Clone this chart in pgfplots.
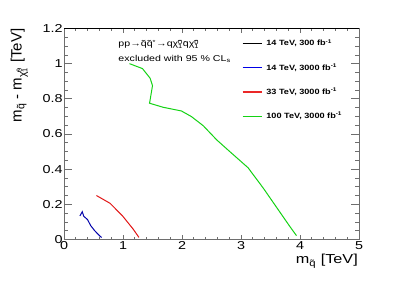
\documentclass[border=0pt]{standalone}
\usepackage{pgfplots}
\pgfplotsset{compat=1.18}
\usepackage{fontspec}
\setmainfont[FakeStretch=1.25]{Liberation Sans}
\newfontfamily\ylabfont{Liberation Sans}
\newfontfamily\legfont[FakeStretch=1.2]{Liberation Sans}
\newcommand\subsup[2]{\rlap{\textsubscript{#1}}\textsuperscript{#2}}
\definecolor{rootgreen}{RGB}{20,210,20}
\definecolor{rootblue}{RGB}{0,0,170}
\definecolor{legblue}{RGB}{0,0,230}
\definecolor{rootred}{RGB}{225,20,20}
\definecolor{legred}{RGB}{235,40,40}
\definecolor{framegray}{RGB}{110,110,110}
\begin{document}
\begin{tikzpicture}
\useasboundingbox (0pt,0pt) rectangle (399pt,286pt);
\pgfplotsset{
  common/.style={
    scale only axis, width=295pt, height=211pt,
    at={(64pt,46.5pt)}, anchor=south west,
    xmin=0, xmax=5, ymin=0, ymax=1.2,
    tick align=inside,
    axis line style={framegray, line width=0.8pt},
    every tick/.style={framegray, line width=0.7pt},
    /pgf/number format/assume math mode=true,
    tick label style={font=\fontsize{11.5}{13}\selectfont},
  }
}
\begin{axis}[common, name=main,
  xtick={0,1,2,3,4,5}, minor x tick num=4,
  ytick=\empty,
  major tick length=4.5pt, minor tick length=2.3pt,
  xticklabel style={inner sep=2pt},
  legend style={at={(rel axis cs:0.603,0.952)}, anchor=north west,
    draw=none, fill=none, inner sep=0pt,
    font=\legfont\bfseries\fontsize{7.6}{9}\selectfont,
    row sep=15.3pt, nodes={inner sep=1pt, text height=6pt, text depth=1pt},
    /tikz/every odd column/.append style={column sep=3pt}},
  legend cell align=left,
  legend image code/.code={\draw[#1] (0pt,0pt) -- (19pt,0pt);},
]
\addlegendimage{black, line width=1.3pt}
\addlegendentry{14 TeV, 300 fb\textsuperscript{-1}}
\addlegendimage{legblue, line width=1.3pt}
\addlegendentry{14 TeV, 3000 fb\textsuperscript{-1}}
\addlegendimage{legred, line width=1.3pt}
\addlegendentry{33 TeV, 3000 fb\textsuperscript{-1}}
\addlegendimage{rootgreen, line width=1.3pt}
\addlegendentry{100 TeV, 3000 fb\textsuperscript{-1}}
\addplot[rootblue, line width=1pt, forget plot] coordinates {
 (0.27,0.134) (0.31,0.158) (0.335,0.132) (0.40,0.113) (0.45,0.080)
 (0.52,0.050) (0.62,0.016) (0.64,0.012)};
\addplot[rootred, line width=1pt, forget plot] coordinates {
 (0.55,0.250) (0.78,0.206) (0.99,0.135) (1.17,0.060) (1.27,0.012)};
\addplot[rootgreen, line width=1pt, forget plot] coordinates {
 (1.11,1.000) (1.33,0.972) (1.46,0.917) (1.50,0.875) (1.45,0.775)
 (1.68,0.752) (1.99,0.731) (2.16,0.699) (2.36,0.647) (2.59,0.566)
 (2.81,0.500) (3.12,0.408) (3.38,0.291) (3.83,0.073) (3.94,0.022)};
\node[anchor=base west, inner sep=0pt, font=\fontsize{8.5}{10}\selectfont]
  at (axis cs:0.92,1.095) {pp→\~{q}\~{q}\textsuperscript{*}→q\~{χ}\subsup{1}{0}\={q}\~{χ}\subsup{1}{0}};
\node[anchor=base west, inner sep=0pt, font=\fontsize{8.5}{10}\selectfont]
  at (axis cs:0.92,1.011) {excluded with 95 \% CL\textsubscript{s}};
\end{axis}
\begin{axis}[common,
  xtick=\empty,
  ytick={0,0.2,0.4,0.6,0.8,1,1.2}, minor y tick num=3,
  major tick length=8pt, minor tick length=4pt,
  yticklabel style={inner xsep=1.3pt},
]
\end{axis}
\draw[black, line width=0.8pt] (main.north west) -- (main.north east);
\node[anchor=base east, inner sep=0pt, font=\fontsize{13}{15}\selectfont]
  at ([xshift=-1pt, yshift=-24.5pt]main.south east) {m\textsubscript{\~{q}} [TeV]};
\node[rotate=90, anchor=base east, inner sep=0pt, font=\ylabfont\fontsize{15}{17}\selectfont]
  at ([xshift=-42.3pt]main.north west) {m\textsubscript{\~{q}} - m\textsubscript{\~{χ}\subsup{1}{0}} [TeV]};
\end{tikzpicture}
\end{document}
